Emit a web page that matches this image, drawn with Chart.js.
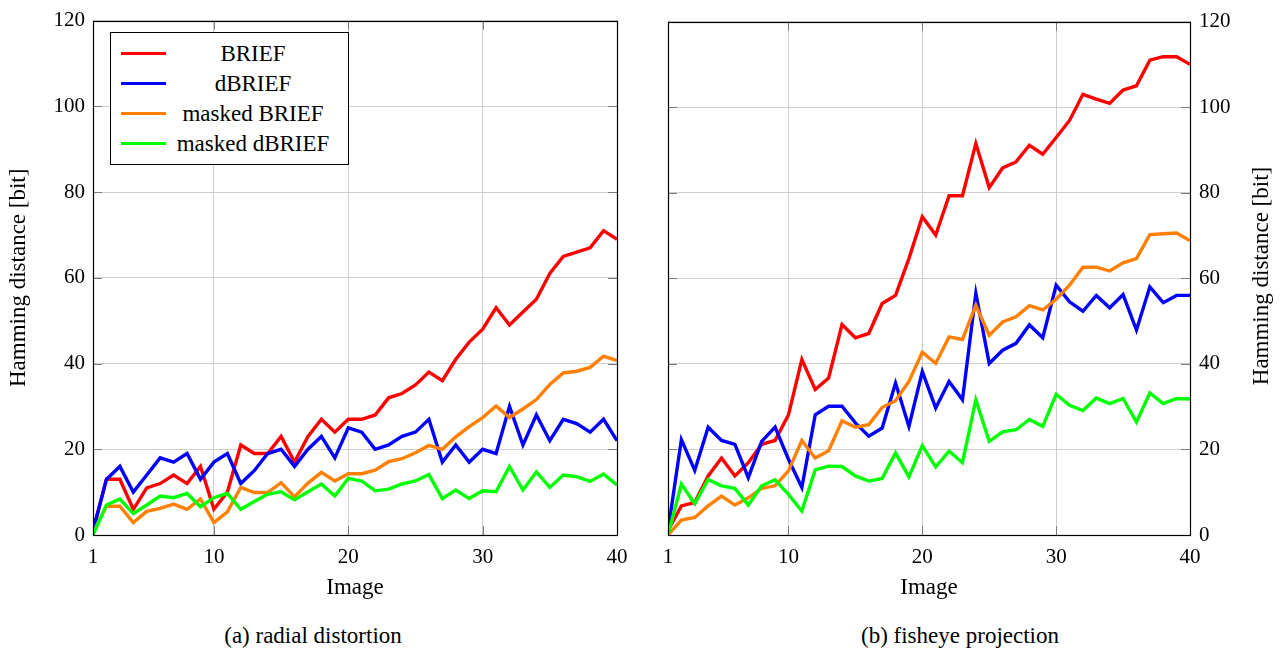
<!DOCTYPE html>
<html>
<head>
<meta charset="utf-8">
<script src="https://cdn.jsdelivr.net/npm/chart.js@4.4.1/dist/chart.umd.min.js"></script>
<style>
  html, body { margin: 0; padding: 0; background: #ffffff; }
  body { width: 1287px; height: 655px; position: relative; overflow: hidden;
         font-family: "Liberation Serif", "DejaVu Serif", serif; color: #000; }
  .panel { position: absolute; top: 0; }
  #legend { position: absolute; left: 110px; top: 32px; width: 237px; height: 131px;
            border: 1px solid #000; background: #fff; }
  .row { position: absolute; left: 0; width: 100%; height: 30px; }
  .swatch { position: absolute; left: 10px; top: 13px; width: 45px; height: 3px; }
  .ltext { position: absolute; left: 57px; width: 170px; top: 0; height: 30px;
           line-height: 30px; text-align: center; font-size: 23px; white-space: nowrap; }
  .caption { position: absolute; top: 621px; height: 30px; line-height: 30px;
             font-size: 23px; text-align: center; white-space: nowrap; }
  .ytitle-right { position: absolute; font-size: 23px; white-space: nowrap;
                  transform-origin: center center; transform: rotate(-90deg); }
</style>
</head>
<body>
<canvas id="left" class="panel" style="left:0px" width="645" height="610"></canvas>
<canvas id="right" class="panel" style="left:645px" width="642" height="610"></canvas>
<div id="legend"></div>
<div class="caption" style="left:163px; width:300px">(a) radial distortion</div>
<div class="caption" style="left:810px; width:300px">(b) fisheye projection</div>
<div id="ytitleRight" class="ytitle-right"></div>
<script>
// Image index on the horizontal axis
const images = Array.from({length: 40}, (_, i) => i + 1);
const xTicks = [1, 10, 20, 30, 40];
const yTicks = [0, 20, 40, 60, 80, 100, 120];

const seriesNames = ['BRIEF', 'dBRIEF', 'masked BRIEF', 'masked dBRIEF'];
const seriesColors = ['#ff0000', '#0000ff', '#ff8000', '#00ff00'];

const xTitle = 'Image';
const yTitle = 'Hamming distance [bit]';

// (a) radial distortion
const radialBRIEF = [1, 13, 13, 6, 11, 12, 14, 12, 16, 6,
  10, 21, 19, 19, 23, 17, 23, 27, 24, 27,
  27, 28, 32, 33, 35, 38, 36, 41, 45, 48,
  53, 49, 52, 55, 61, 65, 66, 67, 71, 69];
const radialDBRIEF = [1, 13, 16, 10, 14, 18, 17, 19, 13, 17,
  19, 12, 15, 19, 20, 16, 20, 23, 18, 25,
  24, 20, 21, 23, 24, 27, 17, 21, 17, 20,
  19, 30, 21, 28, 22, 27, 26, 24, 27, 22];
const radialMaskedBRIEF = [0.5, 6.7, 6.7, 2.9, 5.5, 6.2, 7.2, 6.0, 8.4, 2.9,
  5.4, 11.1, 9.9, 9.9, 12.2, 8.9, 12.1, 14.6, 12.6, 14.3,
  14.3, 15.1, 17.1, 17.8, 19.2, 20.9, 20.0, 22.9, 25.3, 27.4,
  30.1, 27.4, 29.4, 31.6, 35.1, 37.8, 38.2, 39.1, 41.7, 40.7];
const radialMaskedDBRIEF = [0, 7, 8.4, 5.0, 7.0, 9.1, 8.7, 9.7, 6.6, 8.7,
  9.7, 6.0, 7.8, 9.5, 10.1, 8.2, 10.1, 11.9, 9.1, 13.2,
  12.6, 10.3, 10.7, 11.9, 12.6, 14.1, 8.5, 10.5, 8.5, 10.3,
  10.1, 16.0, 10.5, 14.7, 11.1, 14.0, 13.6, 12.5, 14.2, 11.7];

// (b) fisheye projection
const fisheyeBRIEF = [1, 6.8, 7.6, 13.8, 18, 13.8, 16.9, 21.2, 22.1, 28.1,
  41, 34, 36.7, 49.2, 46.1, 47.1, 54.1, 56, 64.6, 74.4,
  70.1, 79.3, 79.3, 91.5, 81.2, 85.8, 87.2, 91.1, 89, 92.9,
  96.9, 103, 101.9, 100.9, 104, 105, 111, 111.8, 111.8, 110];
const fisheyeDBRIEF = [1, 22.3, 15.1, 25.2, 22.1, 21.2, 13.4, 21.9, 25.2, 17.7,
  11.1, 28.1, 30.1, 30.1, 26.2, 23.1, 25, 35.5, 25.4, 38.2,
  29.7, 35.9, 31.6, 56.5, 40.1, 43.2, 44.8, 49.1, 46.1, 58.4,
  54.5, 52.3, 56, 53.1, 56.2, 47.9, 58, 54.3, 56, 56];
const fisheyeMaskedBRIEF = [0, 3.5, 4.1, 6.8, 9.1, 7.0, 8.7, 10.9, 11.5, 15,
  22.1, 18, 19.7, 26.7, 25.2, 25.8, 29.8, 31.4, 35.9, 42.7,
  40.1, 46.3, 45.7, 53.7, 46.7, 49.8, 51, 53.6, 52.6, 55.1,
  58.4, 62.6, 62.6, 61.7, 63.6, 64.6, 70.2, 70.4, 70.6, 68.8];
const fisheyeMaskedDBRIEF = [0, 11.9, 7.3, 13, 11.5, 10.9, 7.0, 11.5, 12.9, 9.5,
  5.6, 15.2, 16.1, 16, 13.8, 12.6, 13.2, 19.2, 13.6, 20.9,
  15.9, 19.6, 16.9, 31.6, 21.9, 24.1, 24.6, 27, 25.4, 32.9,
  30.3, 29.1, 32, 30.7, 31.9, 26.4, 33.2, 30.7, 31.9, 31.8];

const serif = '"Liberation Serif", "DejaVu Serif", serif';
const GRID = '#cfcfcf';

function makeDatasets(seriesList) {
  return seriesList.map((vals, i) => ({
    label: seriesNames[i],
    data: vals.map((v, k) => ({x: images[k], y: v})),
    borderColor: seriesColors[i],
    backgroundColor: seriesColors[i],
    borderWidth: 3.4,
    borderJoinStyle: 'miter',
    pointRadius: 0,
    tension: 0,
    fill: false,
    order: seriesList.length - i   // later series are drawn on top
  }));
}

// Black frame around the plot area plus short inward tick marks
const framePlugin = {
  id: 'frame',
  afterDatasetsDraw(chart) {
    const {ctx, chartArea: a, scales} = chart;
    ctx.save();
    ctx.strokeStyle = '#7a7a7a';
    ctx.lineWidth = 1;
    const tl = 9;
    ctx.beginPath();
    xTicks.forEach(v => {
      const px = Math.round(scales.x.getPixelForValue(v)) + 0.5;
      ctx.moveTo(px, a.bottom); ctx.lineTo(px, a.bottom - tl);
      ctx.moveTo(px, a.top); ctx.lineTo(px, a.top + tl);
    });
    yTicks.forEach(v => {
      const py = Math.round(scales.y.getPixelForValue(v)) + 0.5;
      ctx.moveTo(a.left, py); ctx.lineTo(a.left + tl, py);
      ctx.moveTo(a.right, py); ctx.lineTo(a.right - tl, py);
    });
    ctx.stroke();
    ctx.strokeStyle = '#000';
    ctx.lineWidth = 1.2;
    ctx.strokeRect(Math.round(a.left) + 0.5, Math.round(a.top) + 0.5,
                   Math.round(a.right - a.left), Math.round(a.bottom - a.top));
    ctx.restore();
  }
};

function makeChart(canvasId, seriesList, side) {
  const isLeft = side === 'left';
  return new Chart(document.getElementById(canvasId), {
    type: 'line',
    data: { datasets: makeDatasets(seriesList) },
    plugins: [framePlugin],
    options: {
      responsive: false,
      animation: false,
      devicePixelRatio: 1,
      layout: { padding: isLeft ? {left: 0, top: 18, right: 28, bottom: 0}
                                : {left: 23, top: 18, right: 0, bottom: 0} },
      plugins: { legend: { display: false }, tooltip: { enabled: false } },
      scales: {
        x: {
          type: 'linear', min: 1, max: 40,
          afterBuildTicks(scale) { scale.ticks = xTicks.map(v => ({value: v})); },
          afterFit(scale) { scale.height = 75; },
          grid: { color: GRID, lineWidth: 1, drawTicks: false },
          border: { display: false },
          ticks: { color: '#000', padding: 10, maxRotation: 0,
                   font: { family: serif, size: 21 }, callback: v => String(v) },
          title: { display: true, text: xTitle, color: '#000',
                   font: { family: serif, size: 23 }, padding: {top: 0, bottom: 8} }
        },
        y: {
          position: side,
          min: 0, max: 120,
          afterBuildTicks(scale) { scale.ticks = yTicks.map(v => ({value: v})); },
          afterFit(scale) { scale.width = isLeft ? 93 : 97; },
          grid: { color: GRID, lineWidth: 1, drawTicks: false },
          border: { display: false },
          ticks: { color: '#000', padding: isLeft ? 8 : 9,
                   font: { family: serif, size: 21 }, callback: v => String(v) },
          title: { display: isLeft, text: yTitle, color: '#000',
                   font: { family: serif, size: 23 }, padding: {top: 5, bottom: 0} }
        }
      }
    }
  });
}

makeChart('left', [radialBRIEF, radialDBRIEF, radialMaskedBRIEF, radialMaskedDBRIEF], 'left');
makeChart('right', [fisheyeBRIEF, fisheyeDBRIEF, fisheyeMaskedBRIEF, fisheyeMaskedDBRIEF], 'right');

// Right-hand axis title, reading bottom to top like the left one
const yr = document.getElementById('ytitleRight');
yr.textContent = yTitle;
yr.style.width = '260px';
yr.style.height = '28px';
yr.style.lineHeight = '28px';
yr.style.textAlign = 'center';
yr.style.left = (1261 - 130) + 'px';
yr.style.top = (276 - 14) + 'px';

// Legend for panel (a)
const legend = document.getElementById('legend');
seriesNames.forEach((name, i) => {
  const row = document.createElement('div');
  row.className = 'row';
  row.style.top = (6 + i * 30) + 'px';
  const sw = document.createElement('div');
  sw.className = 'swatch';
  sw.style.background = seriesColors[i];
  const tx = document.createElement('div');
  tx.className = 'ltext';
  tx.textContent = name;
  row.appendChild(sw);
  row.appendChild(tx);
  legend.appendChild(row);
});
</script>
</body>
</html>
